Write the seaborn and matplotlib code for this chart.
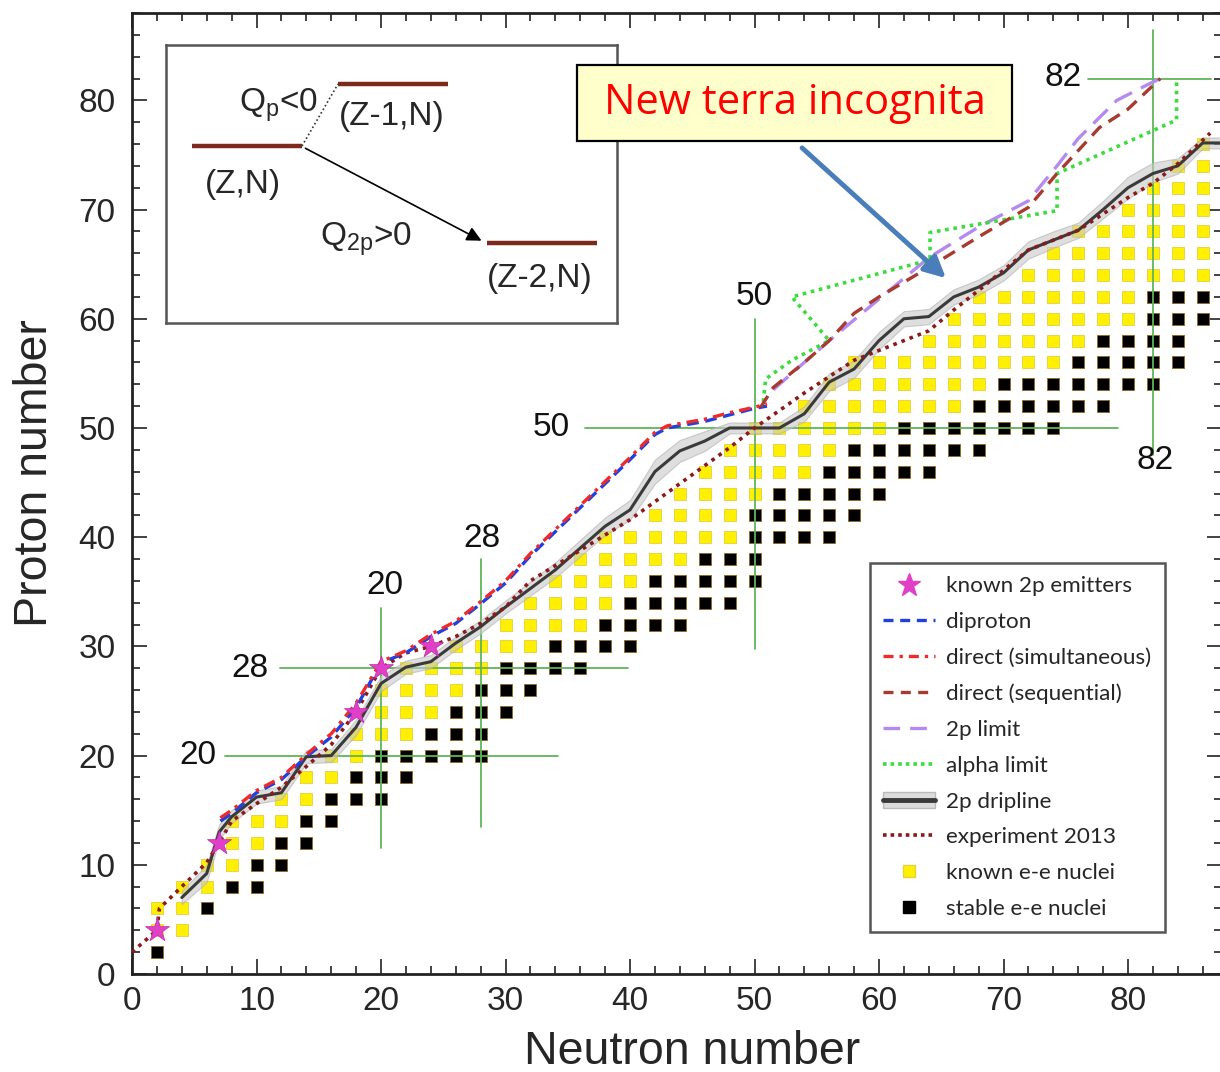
import numpy as np
import pandas as pd
import matplotlib
matplotlib.use("Agg")
import matplotlib.pyplot as plt
import seaborn as sns
from matplotlib.lines import Line2D
from matplotlib.patches import Patch, Rectangle, FancyArrowPatch
from matplotlib.ticker import MultipleLocator

# even-even nuclei: for each Z, range of known N and range of stable N
ee_Z      = [2, 4, 6, 8, 10, 12, 14, 16, 18, 20, 22, 24, 26, 28, 30, 32, 34, 36, 38,
             40, 42, 44, 46, 48, 50, 52, 54, 56, 58, 60, 62, 64, 66, 68, 70, 72, 74, 76]
known_lo  = [2, 2, 2, 4, 6, 8, 8, 12, 14, 16, 18, 20, 20, 22, 26, 30, 32, 34, 36,
             38, 42, 44, 46, 48, 50, 54, 56, 58, 64, 66, 68, 72, 74, 76, 80, 82, 84, 86]
known_hi  = [2, 4, 6, 10, 12, 14, 16, 20, 22, 28, 28, 30, 32, 36, 40, 44, 48, 50, 50,
             56, 58, 60, 64, 68, 74, 78, 82, 84, 84, 86, 86, 86, 86, 86, 86, 86, 86, 86]
stable_lo = [2, None, 6, 8, 10, 12, 14, 16, 18, 20, 24, 26, 28, 30, 34, 38, 40, 42, 46,
             50, 50, 52, 56, 58, 62, 68, 70, 76, 78, 82, 82, None, None, None, None, None, None, None]
stable_hi = [2, None, 6, 10, 12, 14, 16, 20, 22, 28, 28, 30, 32, 36, 40, 44, 48, 50, 50,
             56, 58, 60, 64, 68, 74, 78, 82, 84, 84, 86, 86, None, None, None, None, None, None, None]

star_N = [2, 7, 18, 20, 24]
star_Z = [4, 12, 24, 28, 30]

dip_N = [7.1, 8, 10, 12, 14, 16, 18, 20, 22, 24, 26, 28, 30, 32, 34, 36, 38, 40, 42, 43, 46, 48, 50, 51]
dip_Z = [14, 14.7, 16.6, 17.8, 19.9, 21.7, 24.4, 28.5, 29.4, 30.9, 32.1, 33.9, 35.8, 38.3, 40.5,
         42.7, 44.9, 47.1, 49.4, 50.0, 50.6, 51.2, 51.8, 52.0]
sim_N = [7.1, 8, 10, 12, 14, 16, 18, 20, 22, 24, 26, 28, 30, 32, 34, 36, 38, 40, 42, 43, 46, 48, 50, 51]
sim_Z = [14.3, 15.0, 16.8, 18.0, 20.1, 22.0, 24.8, 28.6, 29.6, 31.1, 32.3, 34.1, 36.0, 38.5, 40.7,
         42.9, 45.1, 47.3, 49.6, 50.2, 50.8, 51.4, 51.9, 52.2]
seq_N = [50.5, 51.5, 54, 56, 58, 60, 64, 68, 72, 74.3, 77.7, 80, 82.6]
seq_Z = [51.9, 53.7, 56, 58, 60.5, 62, 64.7, 67.5, 70.2, 73.3, 77.5, 79.2, 82]
lim_N = [51.5, 54, 56, 60, 64, 68, 72, 74.3, 76, 79.1, 81.5, 82.6]
lim_Z = [53.5, 56, 58, 61.8, 65.6, 68.4, 70.8, 74, 76.5, 80, 81.4, 82]
alp_N = [50.7, 50.9, 53, 56, 53, 64.1, 64.1, 74.3, 74.3, 83.9, 83.9]
alp_Z = [52.4, 54.5, 56.2, 58, 62, 65.4, 67.9, 69.9, 73.3, 78.2, 81.7]

drip_N = [4, 6, 7, 8, 10, 12, 14, 16, 18, 20, 22, 24, 26, 28, 30, 34, 38, 40, 42, 44,
          46, 48, 52, 54, 56, 58, 60, 62, 64, 66, 68, 70, 72, 74, 76, 78, 80, 82, 84, 86, 87.6]
drip_Z = [7, 9.2, 13, 14.4, 16.2, 16.6, 19.9, 20, 22.6, 26.6, 28.1, 28.6, 30.3, 31.8, 33.6, 37, 41, 42.5, 46, 47.9,
          48.8, 50, 50, 51.3, 54.2, 55.4, 58, 60, 60.2, 62, 62.9, 64.2, 66.3, 67.2, 68.1, 70, 72, 73.3, 74, 76.1, 76.1]
drip_lo = [6.4, 8.4, 12.3, 13.8, 15.6, 16.0, 19.3, 19.4, 21.9, 25.9, 27.5, 28.0, 29.7, 31.2, 33.0, 36.3, 40.2, 41.6, 44.9, 46.9,
           47.9, 49.5, 49.5, 50.6, 53.4, 54.6, 57.2, 59.3, 59.5, 61.3, 62.2, 63.5, 65.5, 66.5, 67.4, 69.2, 71.0, 72.5, 73.3, 75.6, 75.6]
drip_hi = [7.6, 10.0, 13.7, 15.0, 16.8, 17.2, 20.5, 20.6, 23.3, 27.3, 28.7, 29.2, 30.9, 32.4, 34.2, 37.7, 41.8, 43.4, 47.1, 48.9,
           49.7, 50.5, 50.5, 52.0, 55.0, 56.2, 58.8, 60.7, 60.9, 62.7, 63.6, 64.9, 67.1, 68.0, 68.8, 70.8, 73.0, 74.3, 74.7, 76.6, 76.6]

exp_N = [0, 2, 2.2, 4, 6, 7, 8, 10, 12, 14, 16, 18, 20, 22, 24, 26, 28, 30, 32, 36,
         40, 44, 48, 50, 52, 54, 58, 62, 64, 66, 68, 72, 76, 80, 82, 84, 86.6]
exp_Z = [2, 4, 6, 8, 10.2, 12, 14, 15.6, 17.1, 19, 21, 24, 28, 29.4, 30, 30.9, 32.1, 33.6, 36, 38.8,
         41.6, 44.9, 48.2, 50, 51.6, 53.2, 56.2, 58, 58.9, 60.8, 62.6, 66.3, 68.1, 71.1, 72.4, 74.2, 77]

# magic number guide lines: value, start, end
magic_h = [(20, 7.5, 34.2), (28, 11.9, 39.8), (50, 36.4, 79.2), (82, 76.8, 86.7)]
magic_v = [(20, 11.5, 33.5), (28, 13.5, 38.0), (50, 29.8, 60.0), (82, 47.5, 86.4)]

# build the nuclide table
rows = []
for z, lo, hi, slo, shi in zip(ee_Z, known_lo, known_hi, stable_lo, stable_hi):
    for n in range(lo, hi + 1, 2):
        stable = slo is not None and slo <= n <= shi
        rows.append((n, z, "stable" if stable else "known"))
nuc = pd.DataFrame(rows, columns=["N", "Z", "kind"])

sns.set_theme(style="ticks")
plt.rcParams["font.family"] = ["Liberation Sans", "DejaVu Sans"]
plt.rcParams["mathtext.default"] = "regular"

fig = plt.figure(figsize=(12.2, 10.72), dpi=100)
ax = fig.add_axes([132 / 1220, 98 / 1072, 1090 / 1220, 961 / 1072])

yellow = "#fff000"
known = nuc[nuc.kind == "known"]
stab = nuc[nuc.kind == "stable"]
sns.scatterplot(x=known.N, y=known.Z, marker="s", s=85, color=yellow,
                edgecolor="#e6cf40", linewidth=0.6, ax=ax, zorder=2, legend=False)
sns.scatterplot(x=stab.N, y=stab.Z, marker="s", s=85, color="black",
                edgecolor="#8a6a20", linewidth=0.6, ax=ax, zorder=2, legend=False)

green = "#5fb55a"
for z, a, b in magic_h:
    ax.plot([a, b], [z, z], color=green, lw=1.3, zorder=2.5)
for n, a, b in magic_v:
    ax.plot([n, n], [a, b], color=green, lw=1.3, zorder=2.5)

ax.fill_between(drip_N, drip_lo, drip_hi, color="#c8c8c8", alpha=0.6, lw=0.8,
                edgecolor="#b0b0b0", zorder=3)
sns.lineplot(x=drip_N, y=drip_Z, sort=False, estimator=None, color="#3a3a3a", lw=2.2, ax=ax, zorder=3.2)

sns.lineplot(x=exp_N, y=exp_Z, sort=False, estimator=None, color="#8b1a1a", lw=2.6,
             linestyle=(0, (1, 1.4)), ax=ax, zorder=4)
sns.lineplot(x=dip_N, y=dip_Z, sort=False, estimator=None, color="#2040e0", lw=2.4,
             linestyle=(0, (3.5, 2)), ax=ax, zorder=4)
sns.lineplot(x=sim_N, y=sim_Z, sort=False, estimator=None, color="#ee2a2a", lw=2.4,
             linestyle=(0, (3.5, 1.8, 1, 1.8)), ax=ax, zorder=4.1)
sns.lineplot(x=lim_N, y=lim_Z, sort=False, estimator=None, color="#b58af0", lw=2.4,
             linestyle=(0, (6, 3)), ax=ax, zorder=4)
sns.lineplot(x=seq_N, y=seq_Z, sort=False, estimator=None, color="#a83a30", lw=2.4,
             linestyle=(0, (4, 2.5)), ax=ax, zorder=4.1)
sns.lineplot(x=alp_N, y=alp_Z, sort=False, estimator=None, color="#3ddc3d", lw=2.6,
             linestyle=(0, (1, 1.3)), ax=ax, zorder=4)

sns.scatterplot(x=star_N, y=star_Z, marker="*", s=330, color="#e040c8",
                edgecolor="#c02aa8", linewidth=0.5, ax=ax, zorder=6, legend=False)

# magic number labels
for txt, n, z in [("20", 5.3, 20), ("28", 9.5, 28), ("50", 33.7, 50), ("82", 74.8, 82.1),
                  ("20", 20.3, 35.6), ("28", 28.1, 39.9), ("50", 50.0, 62.0), ("82", 82.2, 47.0)]:
    ax.text(n, z, txt, fontsize=24, ha="center", va="center", color="#111111", zorder=7)

ax.set_xlim(0, 87.55)
ax.set_ylim(0, 88)
ax.xaxis.set_major_locator(MultipleLocator(10))
ax.xaxis.set_minor_locator(MultipleLocator(2))
ax.yaxis.set_major_locator(MultipleLocator(10))
ax.yaxis.set_minor_locator(MultipleLocator(2))
ax.tick_params(which="both", direction="in", top=True, right=True, width=1.2, color="#222222")
ax.tick_params(which="major", length=11, labelsize=24)
ax.tick_params(axis="x", which="major", pad=9)
ax.tick_params(axis="y", which="major", pad=12)
ax.tick_params(which="minor", length=5.5)
for sp in ax.spines.values():
    sp.set_linewidth(2)
    sp.set_color("#222222")

ax.set_xlabel("Neutron number", fontsize=33.5, va="center")
ax.set_ylabel("Proton number", fontsize=33.5, va="center")
ax.xaxis.set_label_coords(0.514, -0.081)
ax.yaxis.set_label_coords(-0.089, 0.521)

# legend
handles = [
    Line2D([], [], marker="*", color="#e040c8", linestyle="None", markersize=17),
    Line2D([], [], color="#2040e0", lw=2.4, linestyle=(0, (3, 2))),
    Line2D([], [], color="#ee2a2a", lw=2.4, linestyle=(0, (3, 1.8, 1, 1.8))),
    Line2D([], [], color="#a83a30", lw=2.4, linestyle=(0, (3, 2.2))),
    Line2D([], [], color="#b58af0", lw=2.4, linestyle=(0, (5, 3))),
    Line2D([], [], color="#3ddc3d", lw=2.6, linestyle=(0, (1, 1.1))),
    (Patch(facecolor="#dcdcdc", edgecolor="#bbbbbb"), Line2D([], [], color="#3a3a3a", lw=3.5)),
    Line2D([], [], color="#8b1a1a", lw=2.6, linestyle=(0, (1, 1.1))),
    Line2D([], [], marker="s", color=yellow, markeredgecolor="#e6cf40", linestyle="None", markersize=9),
    Line2D([], [], marker="s", color="black", linestyle="None", markersize=8),
]
labels = ["known 2p emitters", "diproton", "direct (simultaneous)", "direct (sequential)",
          "2p limit", "alpha limit", "2p dripline", "experiment 2013",
          "known e-e nuclei", "stable e-e nuclei"]
leg = ax.legend(handles, labels, loc="upper left", bbox_to_anchor=(0.677, 0.4277),
                borderaxespad=0, fancybox=False, framealpha=1, edgecolor="#555555",
                prop={"family": "Lato", "size": 16.2}, labelspacing=0.7,
                handlelength=2.3, handletextpad=0.5, borderpad=0.6)
leg.get_frame().set_linewidth(1.8)
leg.set_zorder(8)

# inset: decay scheme
ins = fig.add_axes([166 / 1220, 1 - 323 / 1072, 451 / 1220, 278 / 1072])
ins.set_xlim(0, 451)
ins.set_ylim(278, 0)
ins.set_xticks([])
ins.set_yticks([])
for sp in ins.spines.values():
    sp.set_color("#555555")
    sp.set_linewidth(1.8)
lvl = "#7b2a1b"
ins.plot([26, 136], [101, 101], color=lvl, lw=3.2, solid_capstyle="butt")
ins.plot([172, 282], [39, 39], color=lvl, lw=3.2, solid_capstyle="butt")
ins.plot([321, 431], [198, 198], color=lvl, lw=3.2, solid_capstyle="butt")
ins.plot([136, 172], [101, 39], color="#333333", lw=1.2, linestyle=(0, (1, 1.5)))
ins.annotate("", xy=(318, 197), xytext=(137, 102),
             arrowprops=dict(arrowstyle="-|>", color="black", lw=1.2, mutation_scale=22))
ins.text(112, 60, "Q$_p$<0", fontsize=24, ha="center", va="center")
ins.text(226, 72, "(Z-1,N)", fontsize=24, ha="center", va="center")
ins.text(77, 140, "(Z,N)", fontsize=24, ha="center", va="center")
ins.text(200, 194, "Q$_{2p}$>0", fontsize=24, ha="center", va="center")
ins.text(374, 233, "(Z-2,N)", fontsize=24, ha="center", va="center")

# "New terra incognita" callout
fig.add_artist(Rectangle((577 / 1220, 1 - 141 / 1072), 435 / 1220, 76 / 1072,
                         transform=fig.transFigure, facecolor="#ffffcc",
                         edgecolor="black", lw=1.6, zorder=9))
fig.text(795 / 1220, 1 - 103 / 1072, "New terra incognita", fontsize=30, color="red",
         ha="center", va="center", family=["Open Sans", "DejaVu Sans"], zorder=10)
fig.add_artist(FancyArrowPatch((800 / 1220, 1 - 146 / 1072), (948 / 1220, 1 - 280 / 1072),
                               transform=fig.transFigure, arrowstyle="-|>", mutation_scale=32,
                               color="#4a7ebb", lw=3.5, zorder=9))

fig.savefig("out.png", dpi=100)
